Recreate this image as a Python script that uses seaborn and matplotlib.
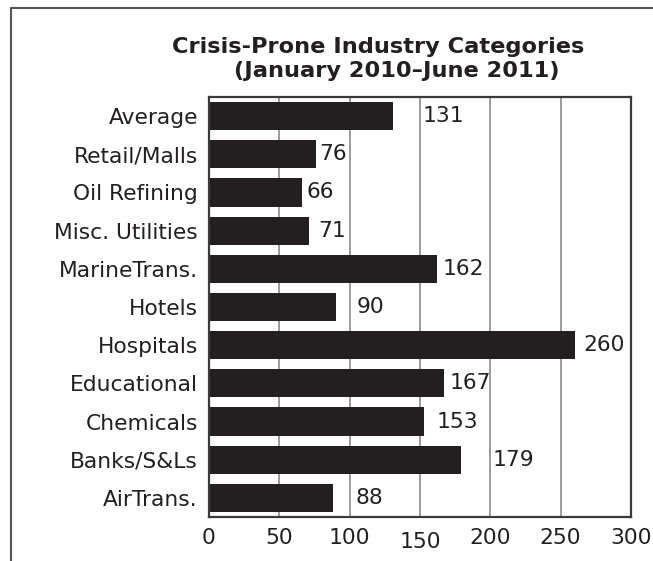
import matplotlib
matplotlib.use("Agg")
import matplotlib.pyplot as plt
from matplotlib.lines import Line2D
import matplotlib.transforms as mtransforms
import seaborn as sns
import pandas as pd

# Industry categories and crisis counts
categories = ["Average", "Retail/Malls", "Oil Refining", "Misc. Utilities",
              "MarineTrans.", "Hotels", "Hospitals", "Educational",
              "Chemicals", "Banks/S&Ls", "AirTrans."]
counts = [131, 76, 66, 71, 162, 90, 260, 167, 153, 179, 88]
x_ticks = [0, 50, 100, 150, 200, 250, 300]

# Gap (in pixels) between each bar end and its value label
label_gaps = [29, 3, 5, 9, 6, 21, 9, 6, 12, 32, 23]

INK = "#231f20"
W, H = 653, 561
FS = 15.7

sns.set_style("white")
plt.rcParams["font.family"] = ["DejaVu Sans"]

fig = plt.figure(figsize=(W / 100, H / 100), dpi=100)
ax = fig.add_axes([209 / W, 1 - 517 / H, (631 - 209) / W, (517 - 97) / H])

df = pd.DataFrame({"category": categories, "count": counts})
sns.barplot(data=df, x="count", y="category", orient="h", color=INK,
            width=0.74, saturation=1, ax=ax, zorder=3)
for p in ax.patches:
    p.set_edgecolor("none")

ax.set_xlim(0, 300)
ax.set_ylim(len(categories) - 0.5, -0.5)
ax.set_xticks(x_ticks)
ax.set_xticklabels([str(t) for t in x_ticks])
ax.set_xlabel("")
ax.set_ylabel("")

# vertical grid lines
for t in x_ticks[1:-1]:
    ax.axvline(t, color="#8a8a8a", lw=1.2, zorder=1)

for s in ax.spines.values():
    s.set_visible(True)
    s.set_color("#3a3a3a")
    s.set_linewidth(1.6)
    s.set_zorder(4)

ax.tick_params(axis="both", length=0, labelsize=FS, colors=INK)
ax.tick_params(axis="y", pad=8)
ax.tick_params(axis="x", pad=8)

# the "150" label sits a little lower
lbl150 = ax.get_xticklabels()[3]
lbl150.set_transform(lbl150.get_transform() +
                     mtransforms.ScaledTranslation(0, -4 / 100, fig.dpi_scale_trans))

# value labels
for i, (v, gap) in enumerate(zip(counts, label_gaps)):
    ax.annotate(str(v), xy=(v, i), xytext=(gap * 0.72, 0),
                textcoords="offset points", ha="left", va="center",
                fontsize=FS, color=INK, zorder=5)

# title
fig.text(378 / W, 1 - 53 / H, "Crisis-Prone Industry Categories",
         ha="center", va="baseline", fontsize=16.2, fontweight="bold", color=INK)
fig.text(396.5 / W, 1 - 77 / H, "(January 2010\u2013June 2011)",
         ha="center", va="baseline", fontsize=16.2, fontweight="bold", color=INK)

# outer frame (left and top edges)
fig.add_artist(Line2D([11 / W, 11 / W], [0, 1 - 8 / H], transform=fig.transFigure,
                      color="#555555", lw=1.5))
fig.add_artist(Line2D([11 / W, 1], [1 - 8 / H, 1 - 8 / H], transform=fig.transFigure,
                      color="#555555", lw=1.5))

fig.savefig("out.png", dpi=100)
